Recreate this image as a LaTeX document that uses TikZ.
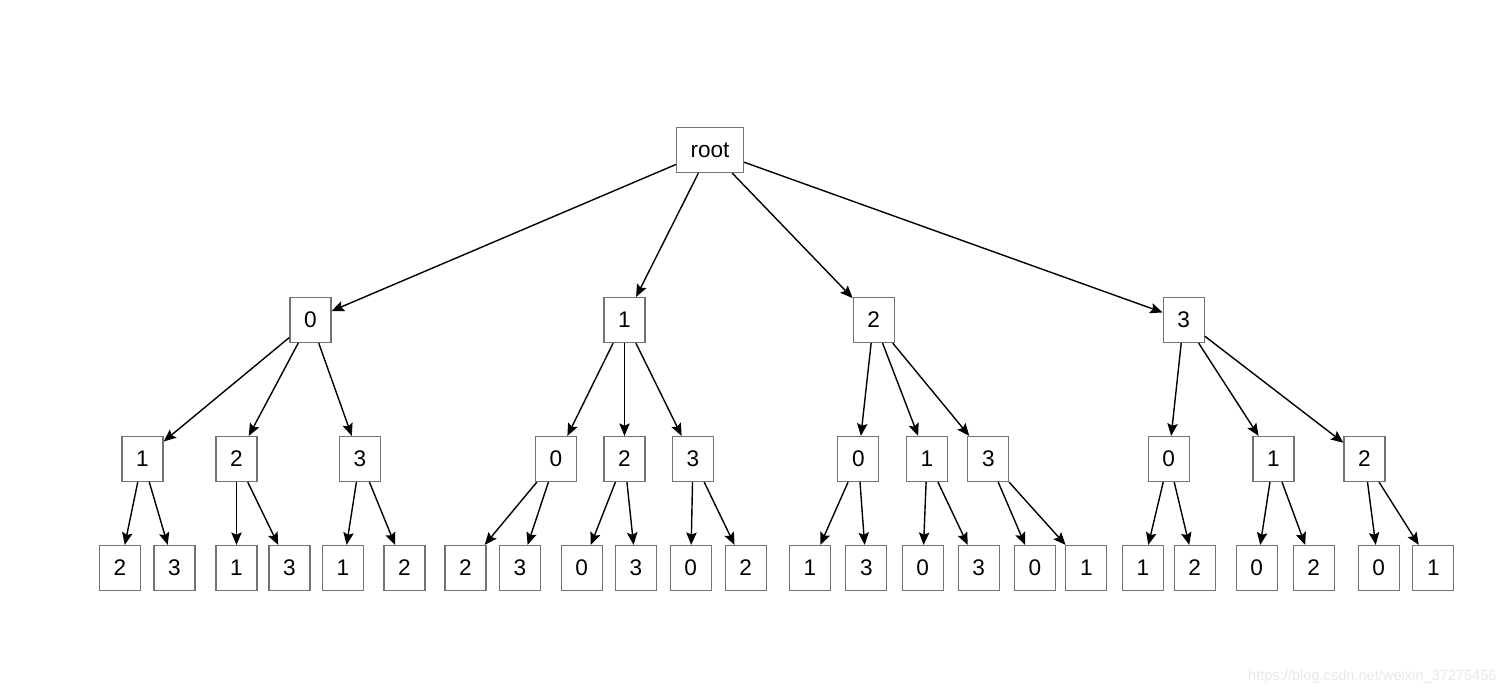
\documentclass[tikz,border=0pt]{standalone}
\usepackage{fontspec}
\setmainfont{Liberation Sans}
\usetikzlibrary{arrows.meta}
\begin{document}
\begin{tikzpicture}[x=0.5pt,y=-0.5pt,
  box/.style={draw=black!55,line width=0.6pt,fill=white,minimum width=20.5pt,minimum height=22.5pt,inner sep=0pt,font=\fontsize{11.3}{13}\selectfont},
  rootbox/.style={box,minimum width=33.5pt},
  edge/.style={line width=0.7pt,-{Stealth[length=6.2pt,width=5.2pt,inset=1.1pt]}}]
\useasboundingbox (0,0) rectangle (1508,694);
% root
\node[rootbox] (r) at (710,150) {root};
% level 1
\node[box] (a0) at (310.5,320) {0};
\node[box] (a1) at (624.5,320) {1};
\node[box] (a2) at (873.7,320) {2};
\node[box] (a3) at (1183.7,320) {3};
% level 2
\node[box] (b01) at (142.5,459) {1};
\node[box] (b02) at (236.5,459) {2};
\node[box] (b03) at (360,459) {3};
\node[box] (b10) at (556,459) {0};
\node[box] (b12) at (624.5,459) {2};
\node[box] (b13) at (693,459) {3};
\node[box] (b20) at (858.3,459) {0};
\node[box] (b21) at (927,459) {1};
\node[box] (b23) at (988.3,459) {3};
\node[box] (b30) at (1168.7,459) {0};
\node[box] (b31) at (1273.5,459) {1};
\node[box] (b32) at (1364.5,459) {2};
% level 3
\node[box] (c012) at (120,568) {2};
\node[box] (c013) at (174.5,568) {3};
\node[box] (c021) at (236.5,568) {1};
\node[box] (c023) at (289.5,568) {3};
\node[box] (c031) at (343,568) {1};
\node[box] (c032) at (404.5,568) {2};
\node[box] (c102) at (465.5,568) {2};
\node[box] (c103) at (520,568) {3};
\node[box] (c120) at (581.7,568) {0};
\node[box] (c123) at (636,568) {3};
\node[box] (c130) at (690.7,568) {0};
\node[box] (c132) at (745.7,568) {2};
\node[box] (c201) at (810,568) {1};
\node[box] (c203) at (866.3,568) {3};
\node[box] (c210) at (922.7,568) {0};
\node[box] (c213) at (978.7,568) {3};
\node[box] (c230) at (1035,568) {0};
\node[box] (c231) at (1086.3,568) {1};
\node[box] (c301) at (1142.8,568) {1};
\node[box] (c302) at (1194.7,568) {2};
\node[box] (c310) at (1256.7,568) {0};
\node[box] (c312) at (1313.7,568) {2};
\node[box] (c320) at (1378.7,568) {0};
\node[box] (c321) at (1433.3,568) {1};
% edges
\foreach \c in {a0,a1,a2,a3} \draw[edge] (r) -- (\c);
\draw[edge] (a0) -- (b01); \draw[edge] (a0) -- (b02); \draw[edge] (a0) -- (b03);
\draw[edge] (a1) -- (b10); \draw[edge] (a1) -- (b12); \draw[edge] (a1) -- (b13);
\draw[edge] (a2) -- (b20); \draw[edge] (a2) -- (b21); \draw[edge] (a2) -- (b23);
\draw[edge] (a3) -- (b30); \draw[edge] (a3) -- (b31); \draw[edge] (a3) -- (b32);
\draw[edge] (b01) -- (c012); \draw[edge] (b01) -- (c013);
\draw[edge] (b02) -- (c021); \draw[edge] (b02) -- (c023);
\draw[edge] (b03) -- (c031); \draw[edge] (b03) -- (c032);
\draw[edge] (b10) -- (c102); \draw[edge] (b10) -- (c103);
\draw[edge] (b12) -- (c120); \draw[edge] (b12) -- (c123);
\draw[edge] (b13) -- (c130); \draw[edge] (b13) -- (c132);
\draw[edge] (b20) -- (c201); \draw[edge] (b20) -- (c203);
\draw[edge] (b21) -- (c210); \draw[edge] (b21) -- (c213);
\draw[edge] (b23) -- (c230); \draw[edge] (b23) -- (c231);
\draw[edge] (b30) -- (c301); \draw[edge] (b30) -- (c302);
\draw[edge] (b31) -- (c310); \draw[edge] (b31) -- (c312);
\draw[edge] (b32) -- (c320); \draw[edge] (b32) -- (c321);
% watermark
\node[anchor=east,inner sep=0pt,text=black!9,font=\fontsize{7.3}{9}\selectfont] (wm) at (1497,677) {https://blog.csdn.net/weixin\_37275456};
\end{tikzpicture}
\end{document}
